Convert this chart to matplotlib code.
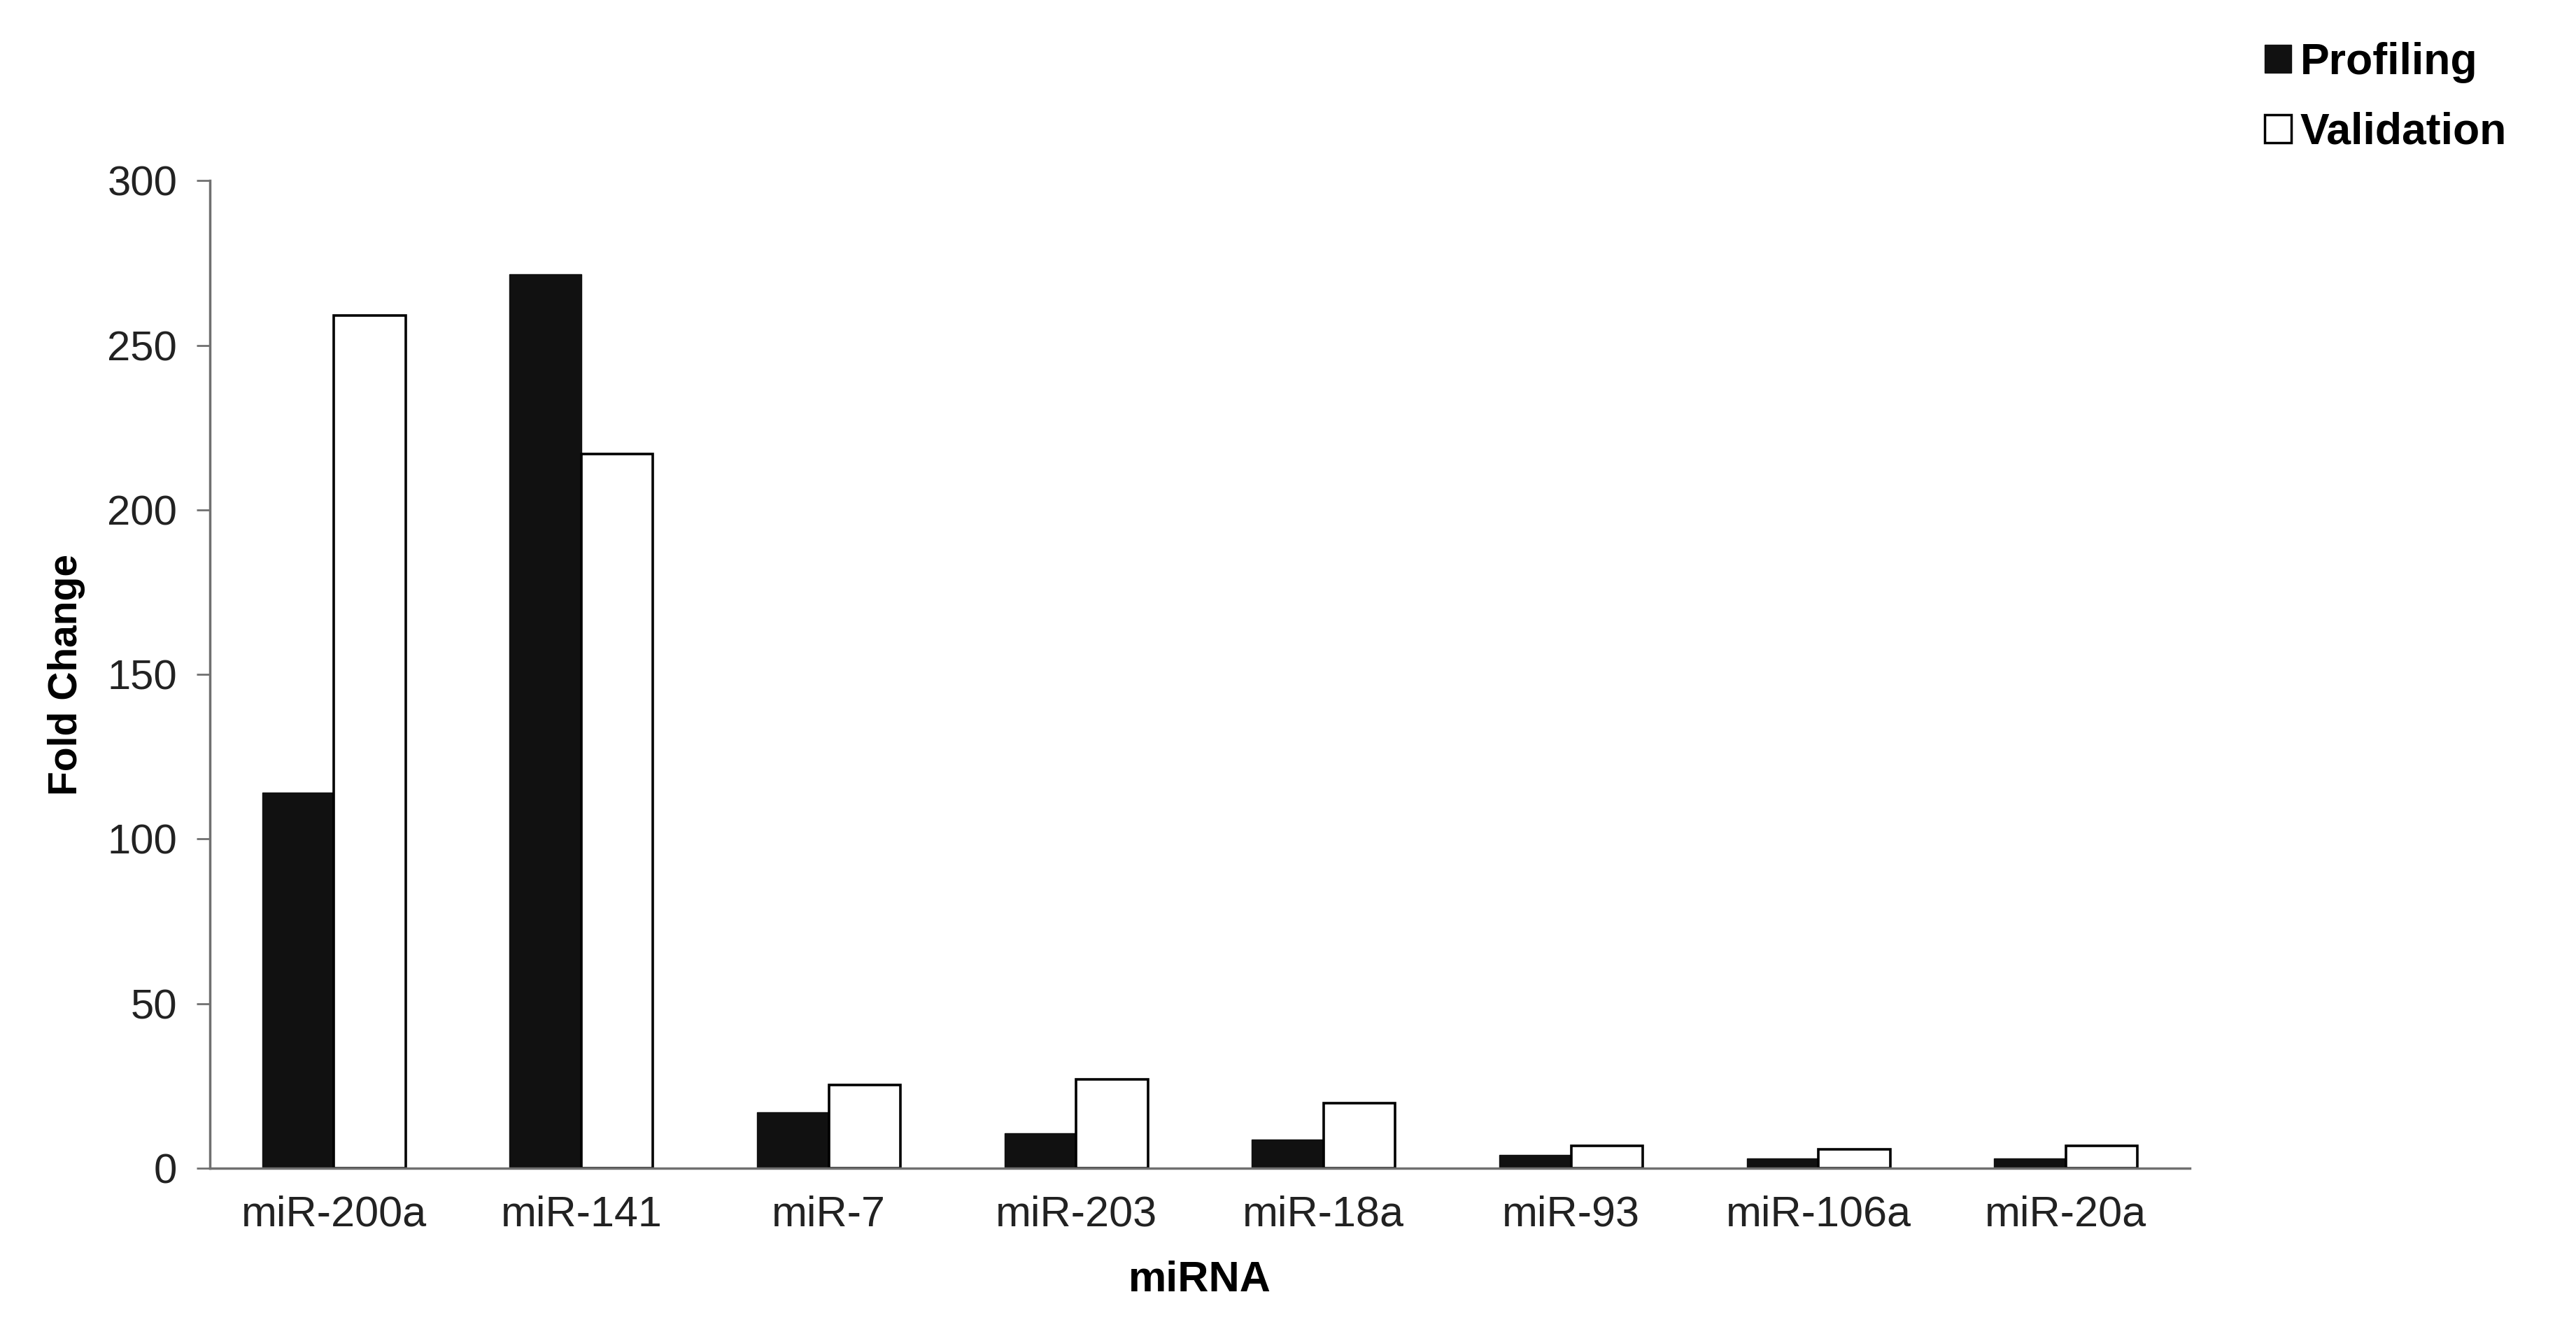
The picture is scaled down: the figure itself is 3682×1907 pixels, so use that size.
import numpy as np
import matplotlib
matplotlib.use('Agg')
import matplotlib.pyplot as plt
from matplotlib.patches import Patch

plt.rcParams['font.family'] = ['Liberation Sans', 'DejaVu Sans']

mirnas = ['miR-200a', 'miR-141', 'miR-7', 'miR-203', 'miR-18a', 'miR-93', 'miR-106a', 'miR-20a']
profiling = [114, 271.5, 17, 10.6, 8.6, 4.0, 3.0, 3.0]
validation = [259, 217, 25.2, 27, 19.7, 6.7, 5.7, 6.7]
yticks = [0, 50, 100, 150, 200, 250, 300]

fig = plt.figure(figsize=(36.82, 19.07), dpi=100)
ax = fig.add_axes([0.0816, 0.1244, 0.7684, 0.7401])

x = np.arange(len(mirnas))
w = 0.29
ax.bar(x - w / 2, profiling, w, color='#111111', edgecolor='#111111', linewidth=1, label='Profiling')
ax.bar(x + w / 2, validation, w, color='white', edgecolor='black', linewidth=2.6, label='Validation')

ax.set_xlim(-0.5, len(mirnas) - 0.5)
ax.set_ylim(0, 300)
ax.set_yticks(yticks)
ax.set_xticks(x)
ax.set_xticklabels(mirnas)

for s in ['top', 'right']:
    ax.spines[s].set_visible(False)
for s in ['left', 'bottom']:
    ax.spines[s].set_color('#707070')
    ax.spines[s].set_linewidth(2.5)

ax.tick_params(axis='y', length=14, width=2, color='#707070', pad=20, labelsize=43, labelcolor='#222222')
ax.tick_params(axis='x', length=0, pad=28, labelsize=44, labelcolor='#222222')

ax.set_ylabel('Fold Change', fontsize=41, fontweight='bold')
ax.yaxis.set_label_coords(-0.063, 0.5)
ax.set_xlabel('miRNA', fontsize=44, fontweight='bold')
ax.xaxis.set_label_coords(0.5, -0.094)

handles = [Patch(facecolor='#111111', edgecolor='#111111', label='Profiling'),
           Patch(facecolor='white', edgecolor='black', linewidth=2.5, label='Validation')]
fig.legend(handles=handles, loc='upper left', bbox_to_anchor=(0.864, 0.998), frameon=False,
           prop={'weight': 'bold', 'size': 45}, handlelength=0.6, handleheight=0.6,
           handletextpad=0.2, labelspacing=0.65)

fig.savefig('out.png', dpi=100, facecolor='white')
